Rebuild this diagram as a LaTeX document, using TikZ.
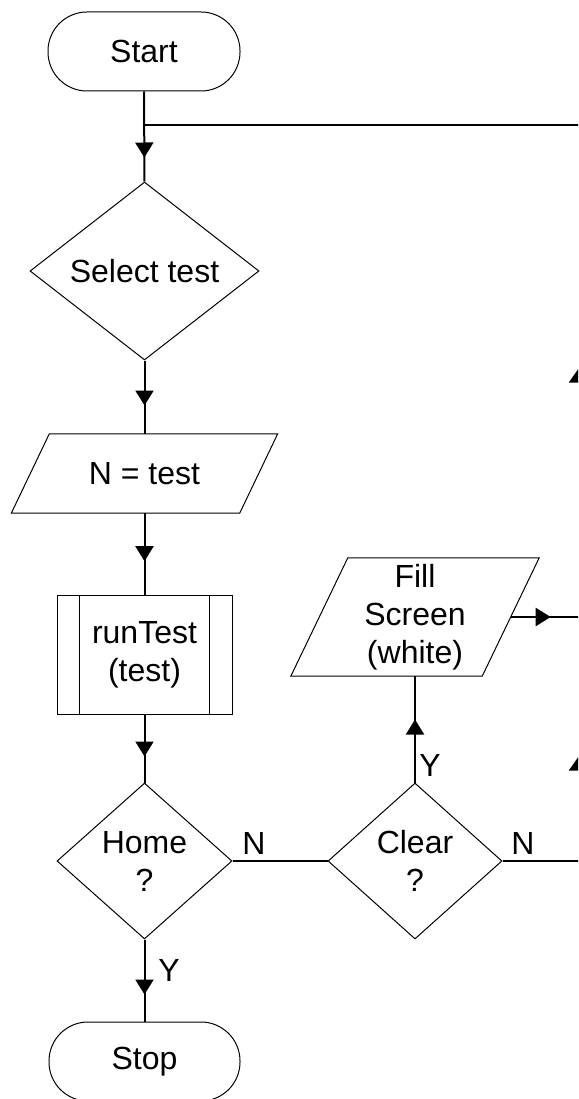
\documentclass[tikz,border=0pt]{standalone}
\usepackage{fontspec}
\setmainfont{Liberation Sans}
\usetikzlibrary{shapes.geometric,arrows.meta,decorations.markings,calc}
\begin{document}
\begin{tikzpicture}[x=1pt,y=-1pt,
  txt/.style={font=\fontsize{32}{38}\selectfont, align=center, inner sep=0pt},
  term/.style={txt, draw, line width=1pt, rounded corners=39pt, minimum width=192pt, minimum height=79pt},
  dec/.style={txt, draw, diamond, aspect=1, line width=1pt},
  outline/.style={line width=1pt},
  conn/.style={line width=2pt},
  arrhead/.tip={Triangle[width=18pt,length=15pt]},
  arrheadwide/.tip={Triangle[width=22pt,length=16pt]},
  midarr/.style={postaction={decorate}, decoration={markings, mark=at position #1 with {\arrow{arrhead}}}},
]
\useasboundingbox (0,0) rectangle (578,1099);
\clip (0,0) rectangle (578,1099);

% nodes
\node[term] (start) at (144,51.5) {Start};
\node[dec, minimum width=229pt, minimum height=178pt] (sel) at (144.5,271) {Select test};
\node[txt, minimum width=228pt, minimum height=79pt] (nt) at (144.5,473.5) {N = test};
\draw[outline] ($(nt.north west)+(19,0)$) -- ($(nt.north east)+(19,0)$) -- ($(nt.south east)+(-19,0)$) -- ($(nt.south west)+(-19,0)$) -- cycle;
\node[txt, draw, line width=1pt, minimum width=175pt, minimum height=119pt] (run) at (144.5,654.5) {runTest\\(test)};
\draw[outline] ([xshift=23pt]run.north west) -- ([xshift=23pt]run.south west);
\draw[outline] ([xshift=-23pt]run.north east) -- ([xshift=-23pt]run.south east);
\node[dec, minimum width=175pt, minimum height=156pt] (home) at (144.5,861) {Home\\?};
\node[dec, minimum width=174pt, minimum height=156pt] (clr) at (415,861) {Clear\\?};
\node[txt, minimum width=191pt, minimum height=118pt] (fill) at (415,617) {Fill\\Screen\\(white)};
\draw[outline] ($(fill.north west)+(28.5,0)$) -- ($(fill.north east)+(28.5,0)$) -- ($(fill.south east)+(-28.5,0)$) -- ($(fill.south west)+(-28.5,0)$) -- cycle;
\node[term, minimum width=191pt] (stop) at (144.5,1061.5) {Stop};

% labels
\node[txt] (nlab1) at (254,843) {N};
\node[txt] (nlab2) at (523,843) {N};
\node[txt] (ylab1) at (430,765) {Y};
\node[txt] (ylab2) at (169,970) {Y};

% coordinates for the return loop
\coordinate (j) at (144.5,125);
\coordinate (r1) at (580,861);
\coordinate (r2) at (580,125);
\coordinate (r3) at (580,617);

% connectors
\draw[conn, midarr=66pt] (start.south) -- (sel.north);
\draw[conn, midarr=45pt] (sel.south) -- (nt.north);
\draw[conn, midarr=48pt] (nt.south) -- (run.north);
\draw[conn, midarr=42pt] (run.south) -- (home.north);
\draw[conn, midarr=55pt] (home.south) -- (stop.north);
\draw[conn] (home.east) -- (clr.west);
\draw[conn, midarr=63pt] (clr.north) -- (fill.south);
\draw[conn, midarr=40pt] (fill.east) -- (r3);
\draw[conn, postaction={decorate}, decoration={markings,
    mark=at position 184pt with {\arrow{arrheadwide}},
    mark=at position 572pt with {\arrow{arrheadwide}}}]
  (clr.east) -- (r1) -- (r2) -- (j);
\end{tikzpicture}
\end{document}
